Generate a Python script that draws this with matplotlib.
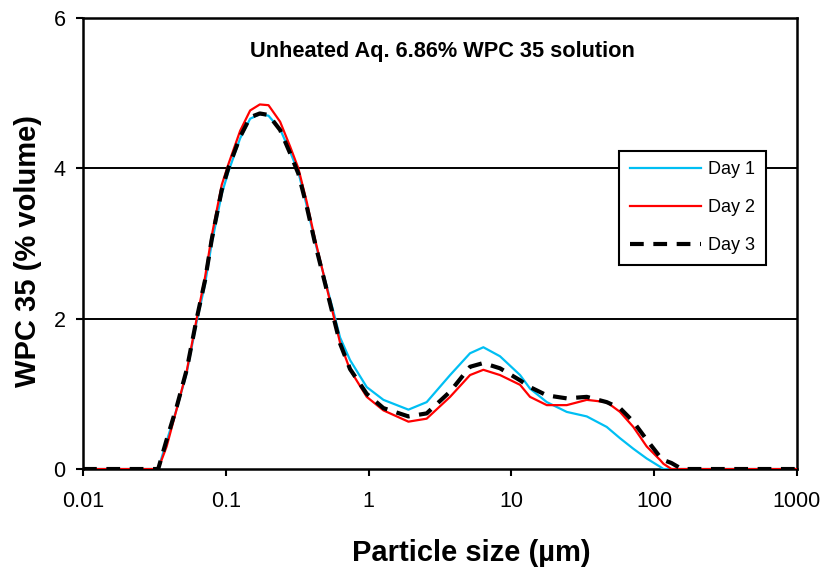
import matplotlib
matplotlib.use('Agg')
import matplotlib.pyplot as plt
from matplotlib.ticker import FixedLocator, FixedFormatter, NullLocator

plt.rcParams['font.family'] = ['Liberation Sans', 'DejaVu Sans']

# particle size (um) and % volume
sizes = [0.01, 0.0336, 0.0385, 0.0453, 0.0532, 0.0625, 0.0715, 0.0796, 0.0936, 0.104,
         0.126, 0.148, 0.173, 0.199, 0.240, 0.282, 0.322, 0.369, 0.422, 0.482,
         0.566, 0.631, 0.741, 0.970, 1.27, 1.90, 2.55, 3.72, 5.13, 6.36,
         8.32, 11.5, 13.5, 17.7, 24.4, 33.7, 46.5, 57.6, 71.4, 88.6,
         110, 116, 132, 156, 1000]

day1 = [0, 0, 0.37, 0.80, 1.28, 1.96, 2.46, 3.00, 3.66, 3.95,
        4.40, 4.66, 4.72, 4.70, 4.52, 4.22, 3.95, 3.50, 3.02, 2.60,
        2.10, 1.75, 1.45, 1.09, 0.92, 0.79, 0.89, 1.25, 1.54, 1.62,
        1.50, 1.25, 1.07, 0.89, 0.76, 0.70, 0.56, 0.41, 0.27, 0.14,
        0.03, 0, 0, 0, 0]

day2 = [0, 0, 0.30, 0.80, 1.30, 2.00, 2.55, 3.10, 3.78, 4.05,
        4.50, 4.77, 4.85, 4.84, 4.62, 4.29, 4.00, 3.55, 3.05, 2.60,
        2.05, 1.68, 1.32, 0.96, 0.78, 0.63, 0.67, 0.96, 1.25, 1.32,
        1.25, 1.12, 0.96, 0.85, 0.85, 0.92, 0.89, 0.76, 0.56, 0.30,
        0.12, 0.07, 0, 0, 0]

day3 = [0, 0, 0.39, 0.83, 1.32, 2.00, 2.51, 3.05, 3.71, 4.00,
        4.42, 4.68, 4.73, 4.71, 4.51, 4.20, 3.93, 3.49, 3.00, 2.56,
        2.03, 1.67, 1.33, 1.00, 0.81, 0.70, 0.74, 1.03, 1.36, 1.41,
        1.34, 1.18, 1.09, 0.98, 0.94, 0.96, 0.89, 0.81, 0.63, 0.39,
        0.16, 0.12, 0.08, 0, 0]

xticks = [0.01, 0.1, 1, 10, 100, 1000]
xticklabels = ['0.01', '0.1', '1', '10', '100', '1000']
yticks = [0, 2, 4, 6]

fig = plt.figure(figsize=(8.23, 5.75), dpi=100)
ax = fig.add_axes([0.1009, 0.1843, 0.8675, 0.7844])

for y in [2, 4]:
    ax.axhline(y, color='black', lw=1.4, zorder=1)

ax.plot(sizes, day1, color='#00BFF3', lw=1.6, label='Day 1', zorder=3)
ax.plot(sizes, day2, color='#FF0000', lw=1.6, label='Day 2', zorder=3)
ax.plot(sizes, day3, color='black', lw=3, dashes=(3.3, 2.3), label='Day 3', zorder=4)

ax.set_xscale('log')
ax.set_xlim(0.01, 1000)
ax.set_ylim(0, 6)
ax.xaxis.set_major_locator(FixedLocator(xticks))
ax.xaxis.set_major_formatter(FixedFormatter(xticklabels))
ax.xaxis.set_minor_locator(NullLocator())
ax.set_yticks(yticks)
ax.tick_params(direction='out', length=5, width=1.5, labelsize=15.5, colors='black')
ax.tick_params(axis='x', pad=10.5)
ax.tick_params(axis='y', pad=7.5)

for s in ax.spines.values():
    s.set_linewidth(1.8)
    s.set_color('black')

fig.text(471.7 / 823, 1 - 553 / 575, 'Particle size (\u00b5m)', fontsize=21,
         fontweight='bold', ha='center', va='center')
fig.text(28 / 823, 1 - 251 / 575, 'WPC 35 (% volume)', fontsize=21,
         fontweight='bold', ha='center', va='center', rotation=90)

ax.text(0.504, 0.913, 'Unheated Aq. 6.86% WPC 35 solution', transform=ax.transAxes,
        ha='center', va='baseline', fontsize=15.7, fontweight='bold')

leg = ax.legend(loc='upper right', bbox_to_anchor=(0.956, 0.706), fontsize=13,
                handlelength=3.9, handletextpad=0.4, borderaxespad=0, borderpad=0.6,
                labelspacing=1.15, fancybox=False, framealpha=1, edgecolor='black')
leg.get_frame().set_linewidth(1.5)

fig.savefig('out.png', dpi=100)
